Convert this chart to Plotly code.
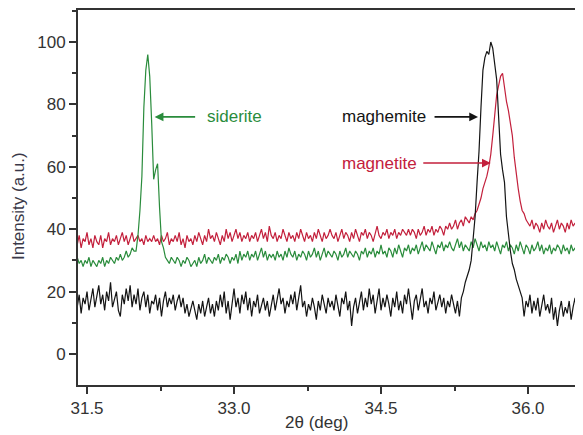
import numpy as np
import plotly.graph_objects as go

# 2-theta grid (deg), 0.02 deg steps from 31.40 to 36.56
two_theta = np.round(np.arange(259) * 0.02 + 31.40, 2)

maghemite = [
    15, 19, 13, 18, 16, 20, 14, 17, 21, 15,
    18, 22, 16, 19, 14, 20, 17, 23, 15, 18,
    20, 14, 12, 19, 16, 21, 17, 22, 15, 19,
    16, 21, 14, 18, 20, 15, 19, 13, 17, 16,
    19, 14, 18, 12, 17, 20, 15, 18, 16, 19,
    14, 17, 19, 15, 18, 13, 16, 12, 15, 17,
    14, 11, 16, 13, 17, 12, 15, 18, 13, 16,
    12, 17, 14, 19, 15, 20, 13, 17, 11, 16,
    21, 15, 18, 13, 19, 16, 20, 14, 18, 12,
    17, 15, 19, 13, 16, 18, 14, 17, 12, 16,
    19, 14, 17, 21, 16, 18, 13, 17, 15, 19,
    16, 20, 14, 18, 22, 15, 17, 12, 16, 14,
    18, 15, 11, 17, 14, 19, 16, 13, 18, 15,
    17, 14, 19, 15, 12, 18, 16, 20, 14, 17,
    9, 15, 18, 13, 17, 20, 14, 18, 15, 21,
    16, 19, 13, 17, 21, 14, 18, 15, 19, 16,
    12, 18, 15, 20, 14, 17, 13, 19, 16, 21,
    15, 11, 17, 19, 14, 18, 21, 15, 17, 13,
    18, 16, 20, 14, 17, 19, 15, 18, 13, 17,
    15, 19, 16, 13, 17, 12, 18, 20, 23, 25,
    27, 30, 36, 44, 55, 65, 79, 91, 95, 97,
    96, 100, 98, 93, 88, 76, 64, 59, 55, 44,
    38, 33, 29, 27, 24, 22, 20, 18, 12, 17,
    15, 19, 13, 17, 14, 18, 12, 16, 19, 14,
    16, 13, 18, 11, 15, 9, 14, 17, 12, 15,
    13, 17, 11, 15, 18, 12, 16, 14, 17,
]

magnetite = [
    35, 38, 34, 37, 36, 39, 35, 37, 34, 38,
    36, 35, 38, 34, 37, 36, 39, 35, 37, 36,
    38, 35, 37, 39, 36, 38, 35, 37, 39, 36,
    37, 38, 36, 37, 35, 38, 36, 37, 36, 38,
    36, 37, 35, 38, 36, 37, 39, 35, 37, 36,
    38, 36, 39, 35, 37, 34, 38, 36, 37, 35,
    38, 36, 39, 37, 35, 38, 36, 40, 37, 38,
    36, 39, 37, 35, 38, 36, 40, 37, 39, 36,
    38, 40, 37, 39, 36, 38, 37, 39, 36, 38,
    37, 39, 36, 38, 40, 37, 39, 36, 41, 38,
    37, 39, 36, 38, 37, 40, 38, 36, 39, 37,
    38, 36, 39, 37, 40, 38, 36, 39, 37, 38,
    36, 39, 37, 40, 38, 36, 39, 37, 38, 40,
    38, 37, 39, 36, 38, 40, 37, 39, 38, 36,
    39, 37, 40, 38, 36, 39, 38, 40, 37, 39,
    38, 36, 39, 41, 38, 37, 39, 38, 40, 37,
    39, 38, 40, 37, 39, 38, 40, 39, 38, 40,
    38, 40, 39, 37, 40, 38, 39, 41, 38, 40,
    39, 41, 38, 40, 39, 41, 40, 38, 41, 40,
    42, 40, 41, 43, 40, 42, 43, 41, 44, 43,
    42, 44, 43, 45, 46, 48, 50, 53, 55, 57,
    60, 64, 70, 77, 83, 86, 89, 90, 85, 81,
    78, 74, 70, 63, 57, 53, 49, 46, 45, 43,
    42, 41, 43, 40, 42, 41, 39, 42, 40, 43,
    41, 40, 42, 39, 41, 43, 40, 42, 41, 39,
    42, 40, 43, 41, 42, 40, 43, 41, 42,
]

siderite = [
    31, 29, 30, 28, 30, 29, 31, 28, 30, 29,
    28, 30, 29, 31, 28, 30, 29, 31, 30, 29,
    31, 30, 32, 30, 31, 33, 31, 32, 34, 33,
    33, 38, 46, 57, 79, 91, 96, 89, 74, 56,
    59, 61, 47, 36, 34, 31, 30, 29, 31, 30,
    29, 31, 30, 28, 30, 29, 31, 30, 28, 29,
    30, 28, 31, 29, 30, 32, 29, 31, 30, 29,
    31, 30, 32, 29, 31, 30, 32, 31, 29, 31,
    30, 32, 29, 33, 30, 32, 31, 33, 30, 32,
    31, 33, 30, 32, 34, 31, 33, 30, 32, 31,
    32, 30, 33, 31, 32, 30, 33, 31, 34, 32,
    31, 33, 30, 32, 31, 33, 32, 30, 33, 31,
    32, 34, 31, 33, 30, 32, 34, 31, 33, 32,
    31, 33, 32, 30, 33, 31, 32, 34, 31, 33,
    32, 31, 33, 32, 30, 33, 32, 34, 31, 33,
    32, 34, 31, 33, 32, 35, 32, 33, 31, 34,
    33, 31, 34, 32, 35, 33, 31, 34, 33, 35,
    32, 34, 33, 35, 32, 34, 36, 33, 35, 34,
    33, 36, 34, 32, 35, 34, 36, 33, 35, 34,
    36, 34, 33, 35, 37, 34, 36, 33, 35, 34,
    33, 36, 34, 37, 35, 33, 36, 34, 35, 33,
    36, 34, 35, 33, 36, 34, 32, 35, 34, 36,
    33, 35, 34, 32, 35, 33, 36, 34, 32, 35,
    34, 32, 35, 33, 34, 36, 33, 35, 32, 34,
    33, 35, 32, 34, 33, 35, 34, 32, 35, 33,
    34, 32, 35, 33, 34, 32, 35, 33, 34,
]

x_ticks = [31.5, 33.0, 34.5, 36.0]
x_tick_labels = ["31.5", "33.0", "34.5", "36.0"]
y_ticks = [0, 20, 40, 60, 80, 100]
x_title = "2θ (deg)"
y_title = "Intensity (a.u.)"

BLACK = "#141414"
RED = "#c3203c"
GREEN = "#2a8c3c"
AXIS = "#333333"
FONT = "Liberation Sans, Arial, sans-serif"

fig = go.Figure()
for name, vals, col in [("magnetite", magnetite, RED),
                        ("siderite", siderite, GREEN),
                        ("maghemite", maghemite, BLACK)]:
    fig.add_trace(go.Scatter(x=two_theta, y=vals, mode="lines", name=name,
                             line=dict(color=col, width=1.2), showlegend=False))

# labels with arrows
labels = [
    # text, colour, text x, arrow tip x, y
    ("siderite", GREEN, 32.70, 32.19, 76),
    ("maghemite", BLACK, 34.08, 35.49, 76),
    ("magnetite", RED, 34.08, 35.62, 61.2),
]
arrow_tail_offsets = [42, -45, -69]
for (txt, col, tx, ax_tip, yv), off in zip(labels, arrow_tail_offsets):
    fig.add_annotation(x=tx, y=yv, text=txt, showarrow=False, xanchor="left",
                       yanchor="middle", font=dict(family=FONT, size=17, color=col))
    fig.add_annotation(x=ax_tip, y=yv, text="", showarrow=True, ax=off, ay=0,
                       arrowhead=2, arrowsize=1.1, arrowwidth=1.6, arrowcolor=col,
                       standoff=0, startstandoff=0)

# axis titles
fig.add_annotation(xref="paper", yref="paper", x=0.473, y=-0.101, text=x_title,
                   showarrow=False, xanchor="center", yanchor="middle",
                   font=dict(family=FONT, size=17, color=AXIS))
fig.add_annotation(xref="paper", yref="paper", x=-0.119, y=0.477, text=y_title,
                   showarrow=False, xanchor="center", yanchor="middle", textangle=-90,
                   font=dict(family=FONT, size=17, color="#3a3848"))

# page body has an 8px default margin, so the figure is sized to fit the window
fig.update_layout(
    width=575, height=427,
    margin=dict(l=70, r=0, t=2, b=50, autoexpand=False),
    paper_bgcolor="white", plot_bgcolor="white",
    font=dict(family=FONT, size=17, color=AXIS),
    xaxis=dict(range=[31.408, 36.561], tickvals=x_ticks, ticktext=x_tick_labels,
               ticks="outside", ticklen=7, tickwidth=1.5, tickcolor=AXIS,
               showline=True, linewidth=2, linecolor=AXIS, mirror=True,
               showgrid=False, zeroline=False, automargin=False,
               minor=dict(dtick=0.75, tick0=31.5, ticks="outside", ticklen=4,
                          tickwidth=1.5, tickcolor=AXIS, showgrid=False)),
    yaxis=dict(range=[-9.94, 110.26], tickvals=y_ticks,
               ticks="outside", ticklen=7, tickwidth=1.5, tickcolor=AXIS,
               showline=True, linewidth=2, linecolor=AXIS,
               showgrid=False, zeroline=False, automargin=False,
               minor=dict(dtick=10, tick0=0, ticks="outside", ticklen=4,
                          tickwidth=1.5, tickcolor=AXIS, showgrid=False)),
)

fig.write_html("out.html")
